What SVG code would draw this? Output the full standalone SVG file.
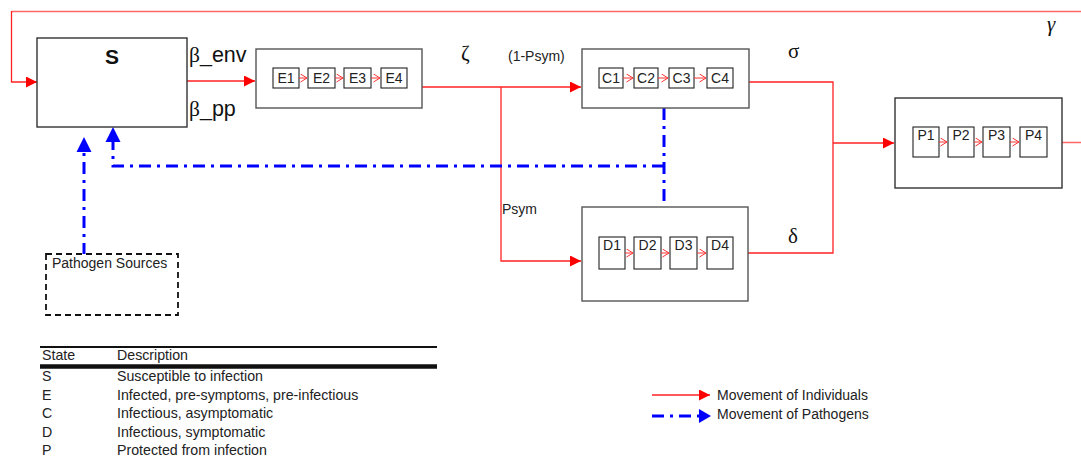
<svg xmlns="http://www.w3.org/2000/svg" width="1081" height="462" viewBox="0 0 1081 462">
  <style>
    .box { fill: #fff; stroke: #555; stroke-width: 1.4; }
    .cell { fill: #fff; stroke: #222; stroke-width: 1.1; }
    .lbl { font-family: "Liberation Sans", Arial, sans-serif; font-size: 14px; fill: #222; }
    .tbl { font-family: "Liberation Sans", Arial, sans-serif; font-size: 14.2px; fill: #222; }
    .greek { font-family: "Liberation Serif", "DejaVu Serif", serif; font-size: 21px; fill: #111; }
    .flow { fill: none; stroke: #f22; stroke-width: 1.3; }
    .step { fill: none; stroke: #f33; stroke-width: 1; }
    .path { fill: none; stroke: #00f; stroke-width: 3; stroke-dasharray: 12 6 3 6; }
  </style>
  <defs>
    <marker id="arrR" markerUnits="userSpaceOnUse" markerWidth="12" markerHeight="12" refX="11" refY="5.5" orient="auto">
      <path d="M0,0 L11,5.5 L0,11 z" fill="#f00"/>
    </marker>
    <marker id="chev" markerUnits="userSpaceOnUse" markerWidth="8" markerHeight="10" refX="7" refY="4.5" orient="auto">
      <path d="M0.5,0.5 L7,4.5 L0.5,8.5" fill="none" stroke="#f33" stroke-width="1"/>
    </marker>
  </defs>

  <!-- connectors -->
  <g id="connectors">
    <!-- return flow from P back into S -->
    <path d="M1081,11.5 H11.5" fill="none" stroke="#f66" stroke-width="1.5"/>
    <path class="flow" d="M11.5,11 V82 H37" marker-end="url(#arrR)"/>
    <!-- S to E -->
    <path class="flow" d="M183,81 H255" marker-end="url(#arrR)"/>
    <!-- E splits to C and D -->
    <path class="flow" d="M422,87 H581" marker-end="url(#arrR)"/>
    <path class="flow" d="M501,87 V261 H581" marker-end="url(#arrR)"/>
    <!-- C and D merge into P -->
    <path class="flow" d="M749,82 H833 V253 H748"/>
    <path class="flow" d="M833,143 H894" marker-end="url(#arrR)"/>
    <path d="M1062,142.5 H1081" fill="none" stroke="#f66" stroke-width="1.5"/>
    <!-- pathogen shedding back to S -->
    <path class="path" d="M664,108 V207"/>
    <path class="path" d="M664,166 H113 V142"/>
    <path d="M113,142 L105.5,142 L113,127 L120.5,142 z" fill="#00f"/>
    <path class="path" d="M84,255 V152"/>
    <path d="M84,152 L76.5,152 L84,137 L91.5,152 z" fill="#00f"/>
  </g>

  <!-- S -->
  <g id="node-S">
    <rect class="box" x="37" y="38" width="150" height="89" style="stroke:#333"/>
    <text x="112" y="64" text-anchor="middle" font-family="Liberation Sans, Arial, sans-serif" font-size="21" font-weight="bold" fill="#111">S</text>
  </g>
  <g id="rate-labels">
    <text x="189" y="62" font-family="Liberation Sans, Arial, sans-serif" font-size="21.5" fill="#111"><tspan font-family="Liberation Serif, serif">β</tspan>_env</text>
    <text x="189" y="116" font-family="Liberation Sans, Arial, sans-serif" font-size="21.5" fill="#111"><tspan font-family="Liberation Serif, serif">β</tspan>_pp</text>
    <text class="greek" x="461" y="60">ζ</text>
    <text class="lbl" x="508" y="61">(1-Psym)</text>
    <text class="lbl" x="502" y="214">Psym</text>
    <text class="greek" x="788" y="58">σ</text>
    <text class="greek" x="788" y="243">δ</text>
    <text class="greek" x="1047" y="31" font-style="italic">γ</text>
  </g>

  <!-- E -->
  <g id="node-E">
    <rect class="box" x="256" y="49" width="166" height="59"/>
    <rect class="cell" x="273" y="68" width="26" height="20"/>
    <rect class="cell" x="308" y="68" width="27" height="20"/>
    <rect class="cell" x="344" y="68" width="27" height="20"/>
    <rect class="cell" x="381" y="68" width="26" height="20"/>
    <path class="step" d="M299,78 H307" marker-end="url(#chev)"/>
    <path class="step" d="M335,78 H343" marker-end="url(#chev)"/>
    <path class="step" d="M371,78 H380" marker-end="url(#chev)"/>
    <text class="lbl" x="286" y="83" text-anchor="middle">E1</text>
    <text class="lbl" x="321.5" y="83" text-anchor="middle">E2</text>
    <text class="lbl" x="357.5" y="83" text-anchor="middle">E3</text>
    <text class="lbl" x="394" y="83" text-anchor="middle">E4</text>
  </g>

  <!-- C -->
  <g id="node-C">
    <rect class="box" x="582" y="49" width="167" height="59"/>
    <rect class="cell" x="599" y="68" width="24" height="20"/>
    <rect class="cell" x="634" y="68" width="24" height="20"/>
    <rect class="cell" x="669" y="68" width="25" height="20"/>
    <rect class="cell" x="707" y="68" width="26" height="20"/>
    <path class="step" d="M623,78 H633" marker-end="url(#chev)"/>
    <path class="step" d="M658,78 H668" marker-end="url(#chev)"/>
    <path class="step" d="M694,78 H706" marker-end="url(#chev)"/>
    <text class="lbl" x="611" y="83" text-anchor="middle">C1</text>
    <text class="lbl" x="646" y="83" text-anchor="middle">C2</text>
    <text class="lbl" x="681.5" y="83" text-anchor="middle">C3</text>
    <text class="lbl" x="720" y="83" text-anchor="middle">C4</text>
  </g>

  <!-- D -->
  <g id="node-D">
    <rect class="box" x="582" y="207" width="166" height="94"/>
    <rect class="cell" x="599" y="237" width="26" height="32"/>
    <rect class="cell" x="634" y="237" width="27" height="32"/>
    <rect class="cell" x="670" y="237" width="27" height="32"/>
    <rect class="cell" x="707" y="237" width="26" height="32"/>
    <path class="step" d="M625,253 H633" marker-end="url(#chev)"/>
    <path class="step" d="M661,253 H669" marker-end="url(#chev)"/>
    <path class="step" d="M697,253 H706" marker-end="url(#chev)"/>
    <text class="lbl" x="612" y="250" text-anchor="middle">D1</text>
    <text class="lbl" x="647.5" y="250" text-anchor="middle">D2</text>
    <text class="lbl" x="683.5" y="250" text-anchor="middle">D3</text>
    <text class="lbl" x="720" y="250" text-anchor="middle">D4</text>
  </g>

  <!-- P -->
  <g id="node-P">
    <rect class="box" x="895" y="98" width="167" height="90" style="stroke:#333"/>
    <rect class="cell" x="913" y="127" width="26" height="30"/>
    <rect class="cell" x="948" y="127" width="26" height="30"/>
    <rect class="cell" x="983" y="127" width="27" height="30"/>
    <rect class="cell" x="1020" y="127" width="27" height="30"/>
    <path class="step" d="M939,142 H947" marker-end="url(#chev)"/>
    <path class="step" d="M974,142 H982" marker-end="url(#chev)"/>
    <path class="step" d="M1010,142 H1019" marker-end="url(#chev)"/>
    <text class="lbl" x="926" y="140" text-anchor="middle">P1</text>
    <text class="lbl" x="961" y="140" text-anchor="middle">P2</text>
    <text class="lbl" x="996.5" y="140" text-anchor="middle">P3</text>
    <text class="lbl" x="1033.5" y="140" text-anchor="middle">P4</text>
  </g>

  <!-- Pathogen sources -->
  <g id="node-sources">
    <rect x="46" y="254" width="132" height="61" fill="#fff" stroke="#111" stroke-width="1.8" stroke-dasharray="6 4"/>
    <text class="lbl" x="52" y="268">Pathogen Sources</text>
  </g>

  <!-- state table -->
  <g id="state-table" class="tbl">
    <line x1="40" y1="347" x2="437" y2="347" stroke="#111" stroke-width="2"/>
    <text x="42" y="360">State</text>
    <text x="117" y="360">Description</text>
    <line x1="40" y1="366.5" x2="437" y2="366.5" stroke="#111" stroke-width="4.5"/>
    <text x="42" y="381">S</text>
    <text x="117" y="381">Susceptible to infection</text>
    <text x="42" y="399.5">E</text>
    <text x="117" y="399.5">Infected, pre-symptoms, pre-infectious</text>
    <text x="42" y="418">C</text>
    <text x="117" y="418">Infectious, asymptomatic</text>
    <text x="42" y="436.5">D</text>
    <text x="117" y="436.5">Infectious, symptomatic</text>
    <text x="42" y="455">P</text>
    <text x="117" y="455">Protected from infection</text>
  </g>

  <!-- legend -->
  <g id="legend">
    <path class="flow" d="M652,395 H710" marker-end="url(#arrR)"/>
    <text class="lbl" x="717" y="400">Movement of Individuals</text>
    <path class="path" d="M652,416 H700"/>
    <path d="M699,409 L711,416 L699,423 z" fill="#00f"/>
    <text class="lbl" x="717" y="419">Movement of Pathogens</text>
  </g>
</svg>
